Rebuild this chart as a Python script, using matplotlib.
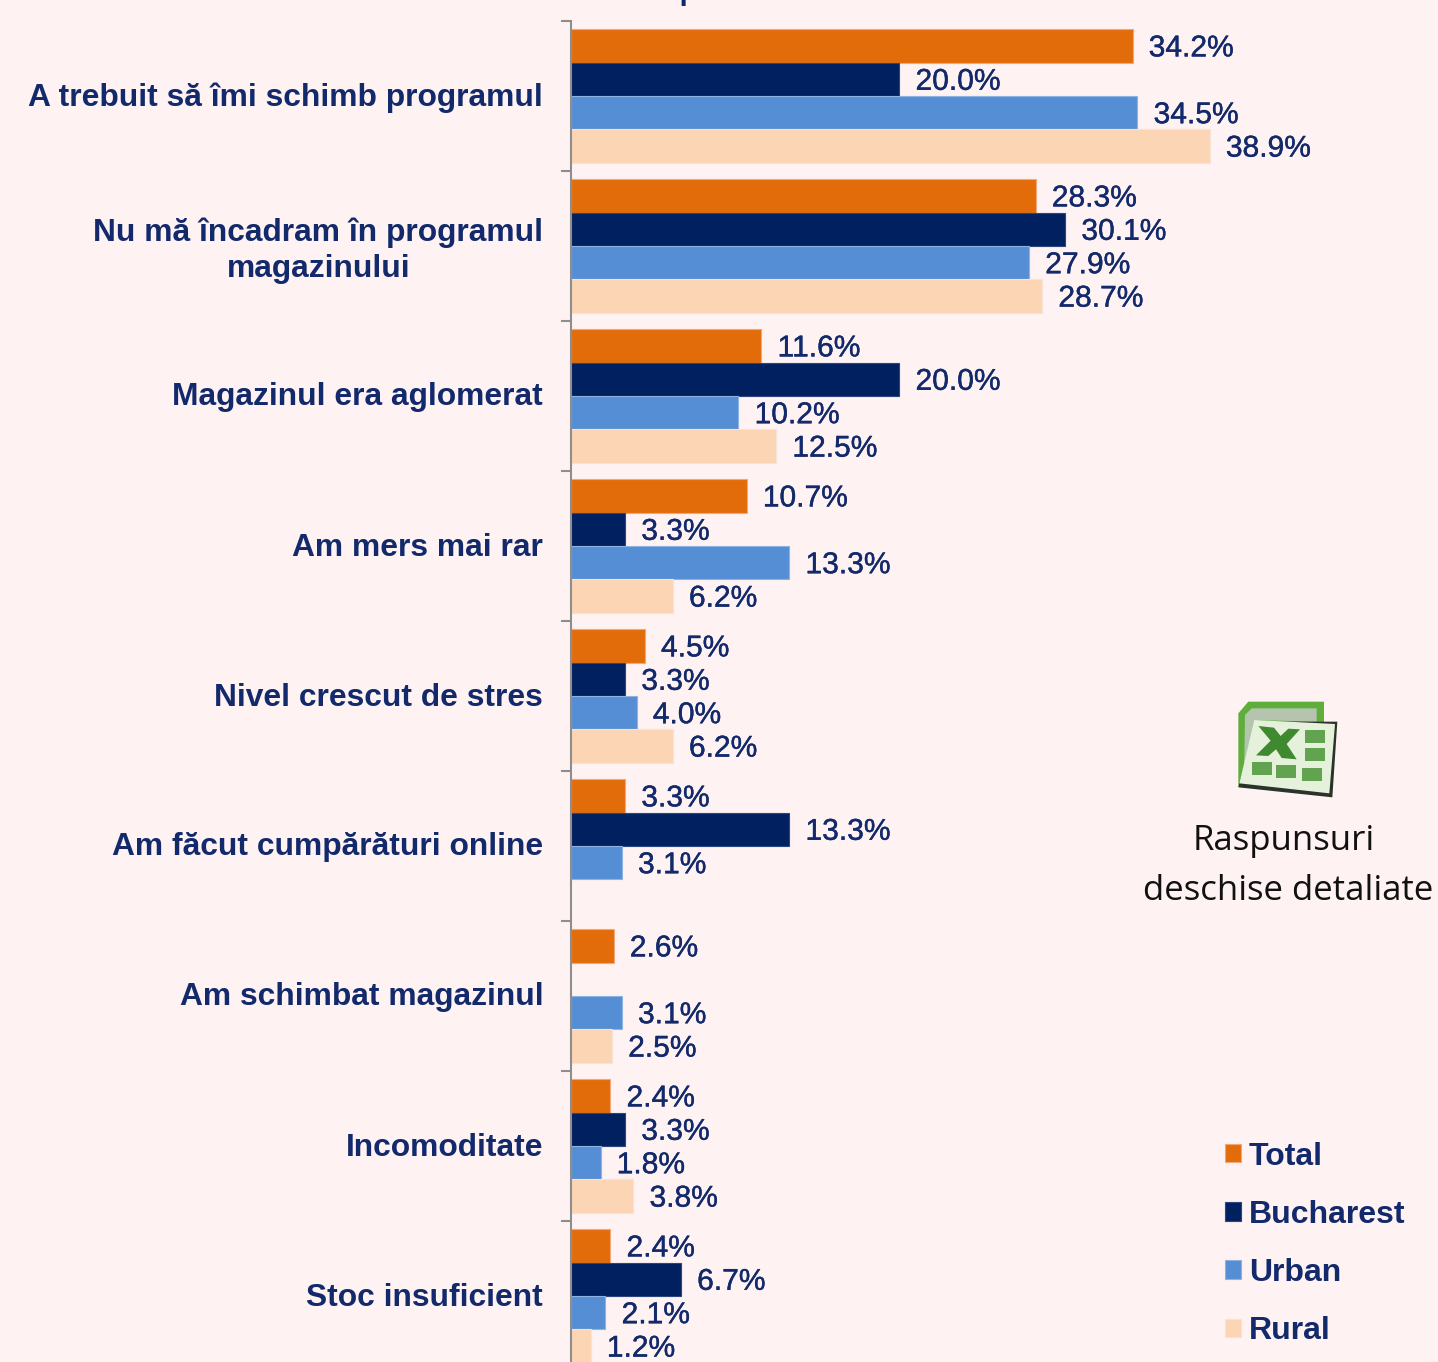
import numpy as np
import matplotlib
matplotlib.use("Agg")
import matplotlib.pyplot as plt
import matplotlib.patheffects as pe
from matplotlib.patches import Polygon, Rectangle
from matplotlib.transforms import ScaledTranslation

categories = [
    "A trebuit să îmi schimb programul",
    "Nu mă încadram în programul\nmagazinului",
    "Magazinul era aglomerat",
    "Am mers mai rar",
    "Nivel crescut de stres",
    "Am făcut cumpărături online",
    "Am schimbat magazinul",
    "Incomoditate",
    "Stoc insuficient",
]
total = [34.2, 28.3, 11.6, 10.7, 4.5, 3.3, 2.6, 2.4, 2.4]
bucharest = [20.0, 30.1, 20.0, 3.3, 3.3, 13.3, np.nan, 3.3, 6.7]
urban = [34.5, 27.9, 10.2, 13.3, 4.0, 3.1, 3.1, 1.8, 2.1]
rural = [38.9, 28.7, 12.5, 6.2, 6.2, np.nan, 2.5, 3.8, 1.2]

series_names = ["Total", "Bucharest", "Urban", "Rural"]
series_values = [total, bucharest, urban, rural]
colors = ["#E36C0A", "#002060", "#558ED5", "#FCD5B5"]
edges = ["#F0A878", "#2A4580", "#8FB3E0", "#F3E3D8"]

W, H = 1438, 1362
bg = "#FEF2F2"
navy = "#12296B"
font = ["Liberation Sans", "DejaVu Sans"]
plt.rcParams["font.family"] = font

fig = plt.figure(figsize=(W / 100, H / 100), dpi=100, facecolor=bg)
ax = fig.add_axes([571 / W, 0, 1 - 571 / W, 1 - 21 / H], facecolor=bg)

bar_h = 0.2227
y = np.arange(len(categories))
thicker = [pe.withStroke(linewidth=0.3, foreground=navy)]
handles = []
for k, vals in enumerate(series_values):
    pos = y + (k - 1.5) * bar_h
    b = ax.barh(pos, vals, height=bar_h, color=colors[k], edgecolor=edges[k],
                linewidth=0.8, label=series_names[k])
    handles.append(b)
    for p, v in zip(pos, vals):
        if not np.isnan(v):
            ax.annotate("%.1f%%" % v, (v, p), xytext=(11.6, -1.8), textcoords="offset points",
                        va="center", ha="left", fontsize=21.6, color=navy, path_effects=thicker)

ax.set_xlim(0, 867 / 16.42)
ax.set_ylim(-0.5 + 1341 / 150, -0.5)

for s in ["top", "right", "bottom"]:
    ax.spines[s].set_visible(False)
ax.spines["left"].set_color("#8E8E8E")
ax.spines["left"].set_linewidth(1.5)
ax.set_xticks([])
ax.set_yticks(np.arange(len(categories)) - 0.5)
ax.set_yticklabels([])
ax.tick_params(axis="y", which="major", length=7, width=1.5, color="#8E8E8E")
ax.set_yticks(y, minor=True)
ax.set_yticklabels(categories, minor=True, fontsize=22.9, fontweight="bold",
                   color=navy, multialignment="center", linespacing=1.25)
ax.tick_params(axis="y", which="minor", length=0, pad=20)
for lab in ax.get_yticklabels(minor=True):
    lab.set_transform(lab.get_transform() + ScaledTranslation(0, 2 / 100, fig.dpi_scale_trans))

leg = fig.legend(handles=handles, loc="lower left", bbox_to_anchor=(1225 / W, 16 / H),
                 frameon=False, labelcolor=navy, prop={"weight": "bold", "size": 23},
                 handlelength=0.5, handleheight=0.5, handletextpad=0.25, labelspacing=0.88,
                 borderpad=0, borderaxespad=0)

# cropped title at the very top
fig.text(722 / W, 1 - 0.5 / H, "Răspuns unic", ha="center", va="baseline",
         fontsize=21, fontweight="bold", color=navy)

# excel icon + caption, drawn in pixel coords
ov = fig.add_axes([0, 0, 1, 1], facecolor="none")
ov.set_xlim(0, W)
ov.set_ylim(H, 0)
ov.axis("off")


def zp(pts):
    return [(1120 + a / 3, 680 + b / 3) for a, b in pts]


ov.add_patch(Polygon(zp([(355, 100), (385, 65), (612, 65), (612, 130), (405, 125), (365, 320), (355, 320)]),
                     fc="#5FAE3C", ec="none"))
ov.add_patch(Polygon(zp([(375, 105), (395, 85), (590, 85), (590, 125), (405, 120), (372, 300)]),
                     fc="#B4C4AE", ec="none"))
ov.add_patch(Polygon(zp([(405, 125), (652, 125), (637, 352), (355, 322)]), fc="#2A332A", ec="none"))
ov.add_patch(Polygon(zp([(403, 120), (645, 132), (628, 340), (358, 310)]), fc="#E6F1DC", ec="none"))
ov.add_patch(Polygon(zp([(415, 138), (462, 143), (482, 168), (505, 146), (540, 148), (500, 192), (530, 238),
                         (485, 234), (468, 208), (445, 228), (408, 226), (452, 182)]),
                     fc="#3F8A30", ec="none"))
for cx, cy in [(395, 247), (468, 254), (545, 264), (555, 150), (555, 205)]:
    a, b = 1120 + cx / 3, 680 + cy / 3
    ov.add_patch(Rectangle((a, b), 20, 13, fc="#62A34F", ec="none"))
ov.text(1284, 841, "Raspunsuri", ha="center", va="center", fontsize=25, color="#111111",
        family=["Open Sans", "DejaVu Sans"])
ov.text(1288, 891, "deschise detaliate", ha="center", va="center", fontsize=25, color="#111111",
        family=["Open Sans", "DejaVu Sans"])

fig.savefig("out.png", dpi=100, facecolor=bg)
